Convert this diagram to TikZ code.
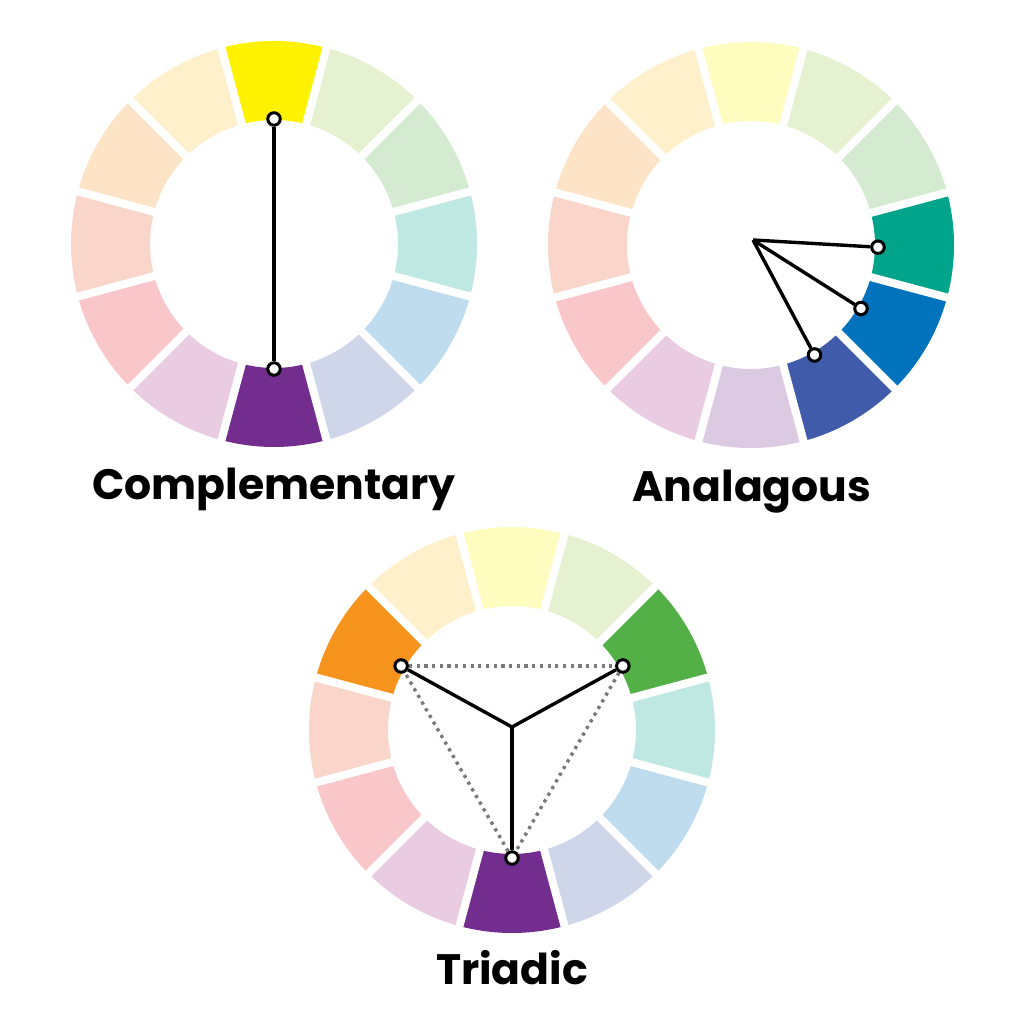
\documentclass[tikz,border=0pt]{standalone}
\usepackage{fontspec}
\setmainfont{Poppins}
\definecolor{cYellow}{HTML}{FFF200}
\definecolor{cYellowGreen}{HTML}{9CC84B}
\definecolor{cGreen}{HTML}{52B047}
\definecolor{cTeal}{HTML}{00A48A}
\definecolor{cBlue}{HTML}{0073BC}
\definecolor{cIndigo}{HTML}{3F5BAA}
\definecolor{cPurple}{HTML}{722D8F}
\definecolor{cMagenta}{HTML}{A8308C}
\definecolor{cRed}{HTML}{E71F27}
\definecolor{cRedOrange}{HTML}{EB5D2B}
\definecolor{cOrange}{HTML}{F7941D}
\definecolor{cYellowOrange}{HTML}{F7C42B}
\definecolor{cDotted}{HTML}{7A7A7A}
\newcommand{\rout}{203}
\newcommand{\rin}{124}
% one ring of twelve sectors, first one on top, then clockwise
\newcommand{\wheelring}[1]{%
  \foreach \c [count=\i from 0] in {#1} {
    \pgfmathsetmacro\sa{105-30*\i}
    \pgfmathsetmacro\ea{75-30*\i}
    \fill[\c] (\sa:\rout) arc[start angle=\sa, end angle=\ea, radius=\rout]
      -- (\ea:\rin) arc[start angle=\ea, end angle=\sa, radius=\rin] -- cycle;
  }
  \foreach \a in {15,45,...,345}
    \draw[gapline] (\a:\rin-10) -- (\a:\rout+10);
}
\begin{document}
\begin{tikzpicture}[x=0.01cm, y=0.01cm,
  gapline/.style={white, line width=0.08cm},
  pin/.style={circle, draw, fill=white, line width=0.03cm, minimum size=0.125cm, inner sep=0pt},
  spoke/.style={line width=0.034cm},
  tri/.style={cDotted, line width=0.034cm, dash pattern=on 0.032cm off 0.045cm},
  title/.style={font=\fontsize{12.1}{14}\selectfont\bfseries, anchor=base}]
\useasboundingbox (0,0) rectangle (1024,1024);

% complementary
\begin{scope}[shift={(274,780)}]
\wheelring{cYellow, cYellowGreen!25!white, cGreen!25!white, cTeal!25!white,
  cBlue!25!white, cIndigo!25!white, cPurple, cMagenta!25!white,
  cRed!25!white, cRedOrange!25!white, cOrange!25!white, cYellowOrange!25!white}
\node[pin] (compTop) at (90:\rin+1){};
\node[pin] (compBot) at (-90:\rin+1){};
\draw[spoke](compTop) -- (compBot);
\end{scope}
\node[title] (compLabel) at (274,524) {Complementary};

% analagous
\begin{scope}[shift={(751,779)}]
\wheelring{cYellow!25!white, cYellowGreen!25!white, cGreen!25!white, cTeal,
  cBlue, cIndigo, cPurple!25!white, cMagenta!25!white,
  cRed!25!white, cRedOrange!25!white, cOrange!25!white, cYellowOrange!25!white}
\coordinate (anaHub) at (2,5);
\node[pin] (anaA) at (-1:\rin+3){};
\node[pin] (anaB) at (-30:\rin+3){};
\node[pin] (anaC) at (-60:\rin+3){};
\draw[spoke](anaHub) -- (anaA);
\draw[spoke](anaHub) -- (anaB);
\draw[spoke](anaHub) -- (anaC);
\end{scope}
\node[title] (anaLabel) at (752,522) {Analagous};

% triadic
\begin{scope}[shift={(512,294)}]
\wheelring{cYellow!25!white, cYellowGreen!25!white, cGreen, cTeal!25!white,
  cBlue!25!white, cIndigo!25!white, cPurple, cMagenta!25!white,
  cRed!25!white, cRedOrange!25!white, cOrange, cYellowOrange!25!white}
\coordinate (triHub) at (0,3);
\node[pin] (triL) at (150:\rin+4){};
\node[pin] (triR) at (30:\rin+4){};
\node[pin] (triB) at (-90:\rin+4){};
\draw[tri](triL) -- (triR);
\draw[tri](triR) -- (triB);
\draw[tri](triB) -- (triL);
\draw[spoke](triHub) -- (triL);
\draw[spoke](triHub) -- (triR);
\draw[spoke](triHub) -- (triB);
\end{scope}
\node[title] (triLabel) at (512,39) {Triadic};

\end{tikzpicture}
\end{document}
